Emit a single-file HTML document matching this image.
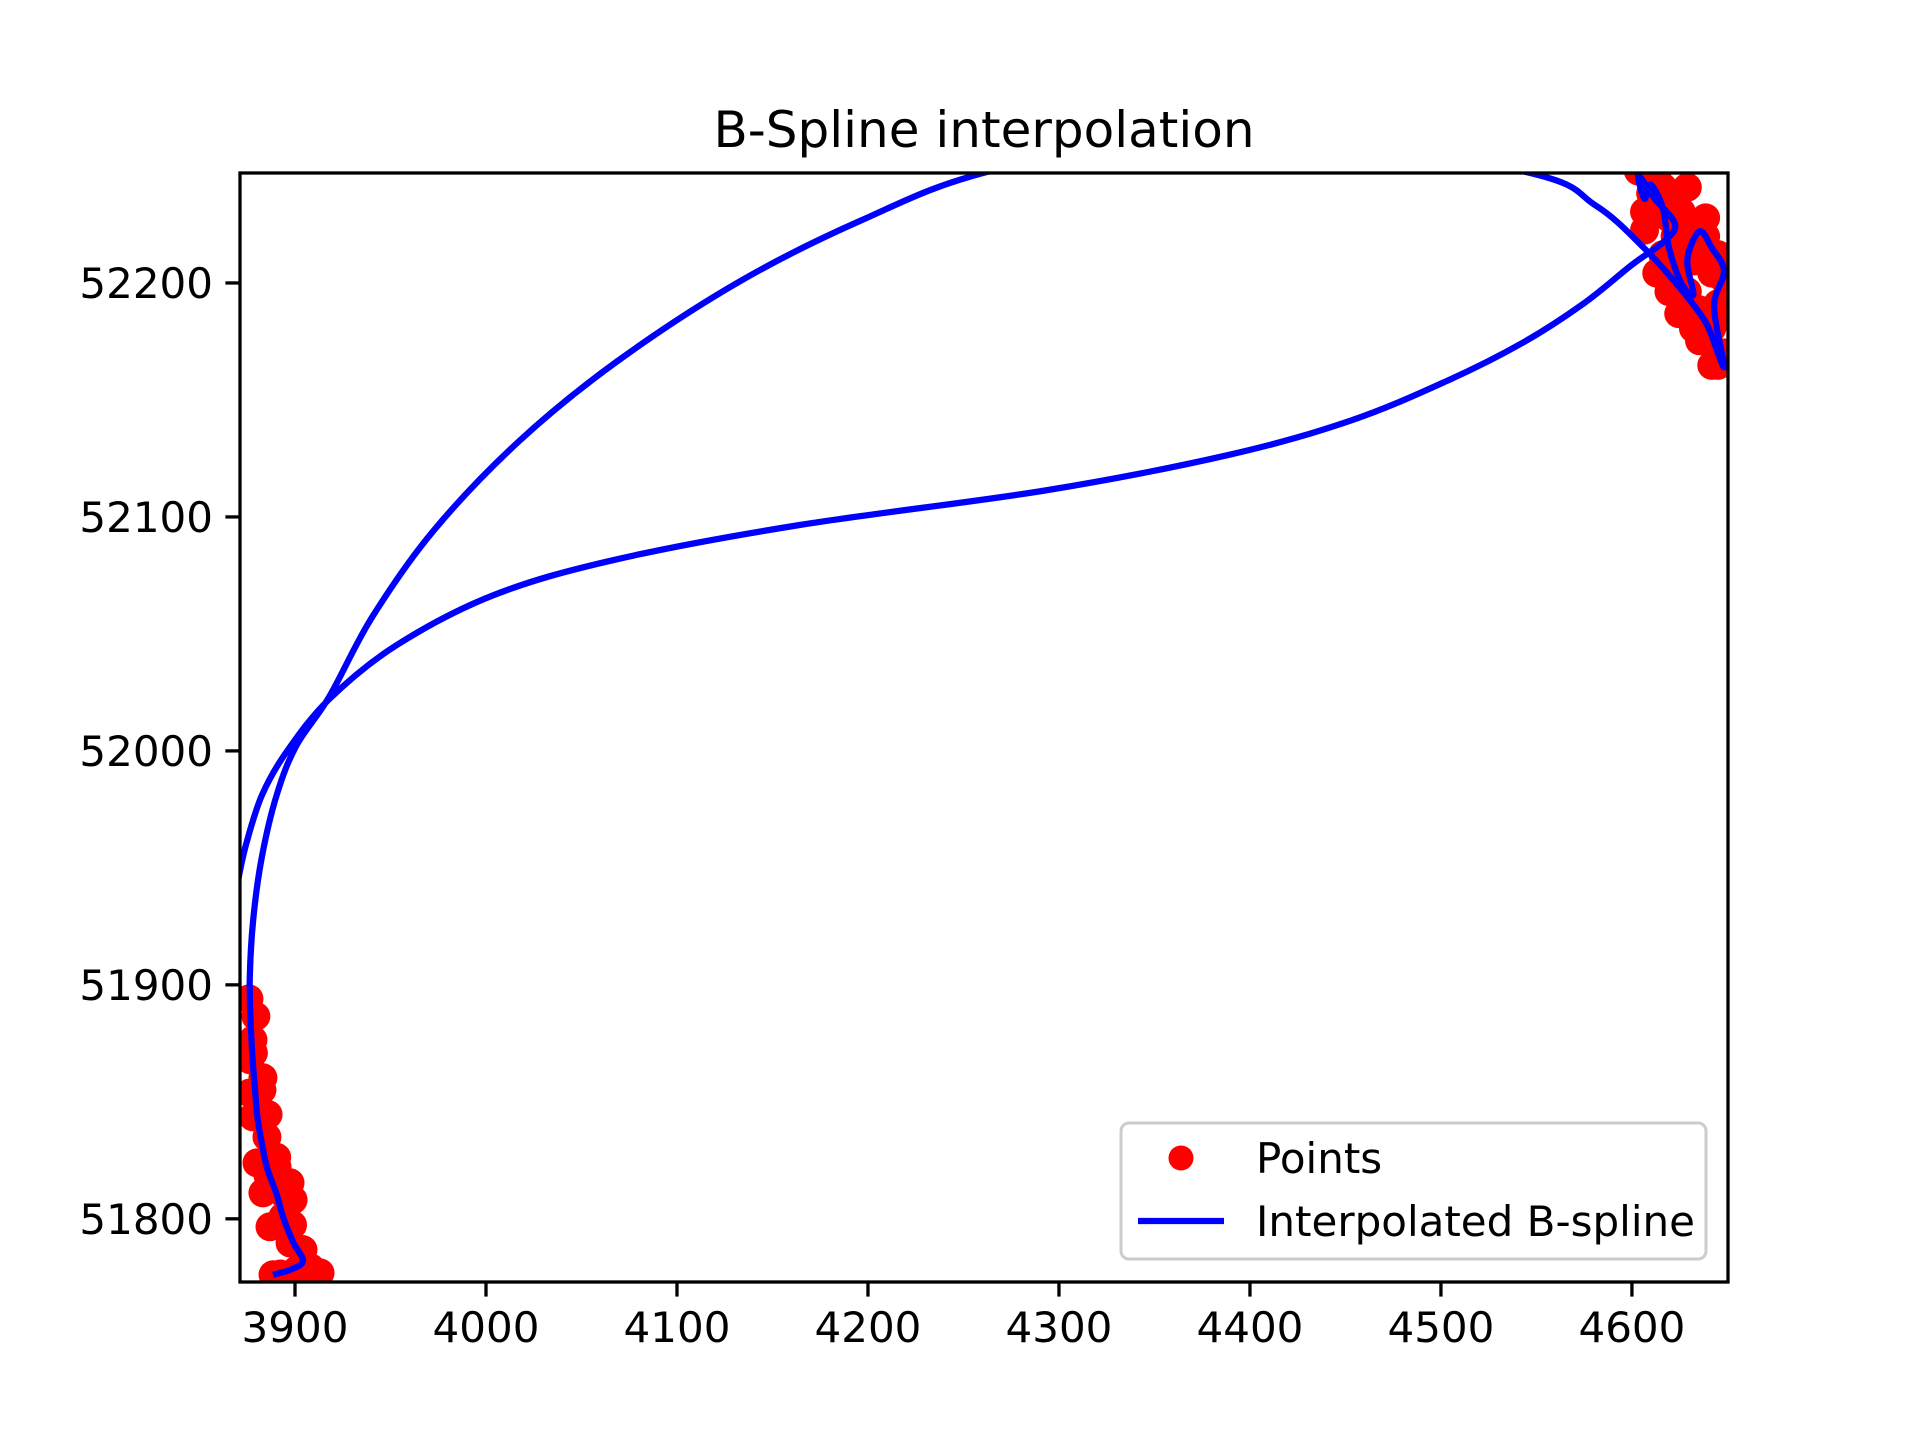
<!DOCTYPE html>
<html><head><meta charset="utf-8"><style>
html,body{margin:0;padding:0;background:#fff;}
svg{display:block;font-family:"DejaVu Sans","Liberation Sans",sans-serif;}
</style></head><body>
<svg id="chart" width="1920" height="1440" viewBox="0 0 1920 1440" xmlns="http://www.w3.org/2000/svg">
<rect width="1920" height="1440" fill="#fff"/>
<text x="984" y="147" font-size="50" text-anchor="middle" fill="#000">B-Spline interpolation</text>
<defs><clipPath id="plotclip"><rect x="240" y="173" width="1488" height="1109"/></clipPath></defs>
<g id="plot" clip-path="url(#plotclip)"></g>
<g id="axes"></g>
<g>
<rect x="1121" y="1123" width="585" height="136" rx="8" fill="#fff" fill-opacity="0.8" stroke="#ccc" stroke-width="3"/>
<circle cx="1181" cy="1158" r="12.5" fill="#ff0000"/>
<text x="1256" y="1173" font-size="42" fill="#000">Points</text>
<line x1="1138" y1="1221" x2="1224" y2="1221" stroke="#0000ff" stroke-width="6.25"/>
<text x="1256" y="1236" font-size="42" fill="#000">Interpolated B-spline</text>
</g>
</svg>
<script>
const xTicks = [3900, 4000, 4100, 4200, 4300, 4400, 4500, 4600];
const yTicks = [51800, 51900, 52000, 52100, 52200];
const xDomain = [3871.2, 4650.3];
const yDomain = [51773, 52247];
const pointsX = [3875.9,3878.0,3876.4,3883.2,3876.4,3878.0,3885.3,3880.1,3890.6,3897.4,3899.0,3883.2,3893.7,3886.9,3904.2,3897.4,3913.1,3888.5,3901.0,
 3879.5,3878.2,3882.7,3885.9,3890.4,3894.2,3898.7,3903.8,3908.3,3892.3,3885.9,
 4603.4,4609.8,4606.6,4616.2,4629.0,4635.4,4632.2,4638.6,4645.0,4648.2,4645.0,4641.8,4648.2,4638.6,4629.0,4622.6,4616.2,4622.6,4619.4,4625.8,4645.0,4635.4,4625.8,4632.2,
 4606.6,4613.0,4619.4,4624.5,4632.2,4641.8,4650.1,4613.0,4622.6,4638.6,4641.8,4635.4,4629.0];
const pointsY = [51894.0,51876.5,51868.0,51860.3,51853.8,51843.6,51835.0,51823.9,51822.2,51815.4,51808.1,51811.1,51800.9,51796.6,51786.8,51789.7,51776.9,51776.1,51778.2,
 51886.6,51870.9,51855.1,51844.6,51826.3,51810.5,51797.4,51786.9,51779.0,51776.4,51818.4,
 52247.8,52238.3,52230.4,52240.9,52240.9,52225.2,52217.3,52219.9,52212.1,52201.6,52191.1,52180.6,52170.1,52183.2,52196.3,52204.2,52212.1,52219.9,52227.8,52230.4,52164.8,52175.3,52191.1,52209.4,
 52222.6,52204.2,52196.3,52186.9,52180.6,52164.8,52185.8,52246.2,52235.7,52227.8,52204.2,52188.5,52209.4];
const splineX = [3888.5,3897.4,3904.2,3899.0,3893.7,3890.6,3885.3,3882.0,3880.1,3879.0,3878.0,3877.0,
 3876.3,3878.2,3882.7,3890.4,3900.6,3917.9,3940.4,3972.4,4017.2,4068.5,4132.5,4196.6,4263.9,4390,4542.5,4581.0,4606.6,
 4625.0,4638.6,4645.0,4648.2,4643.0,4648.2,4641.8,4635.4,4629.0,4632.2,4625.8,4619.4,4616.2,4609.8,4606.6,4603.4,4612,4622.6,
 4616.2,4600.2,4574.5,4542.5,4504.1,4452.8,4388.8,4292.7,4164.6,4068.5,4004.4,3953.2,3917.9,3895.5,3882.7,3874.4,3870];
const splineY = [51776.1,51778.2,51782.0,51790.0,51800.9,51810.0,51822.0,51835.0,51845.0,51856.0,51866.0,51880.0,
 51902.4,51928.6,51954.9,51981.1,52002.1,52023.1,52057.2,52094.0,52132.3,52166.4,52200.5,52226.8,52247.8,52268,52247.8,52233.1,52214.7,
 52198.0,52183.2,52170.1,52165.0,52190.0,52205.0,52215.0,52222.0,52210.0,52195.0,52200.0,52215.0,52232.0,52242.0,52236.0,52246.0,52236.0,52225.0,
 52217.3,52207.9,52191.1,52174.3,52158.5,52141.2,52126.5,52111.3,52096.6,52081.9,52066.7,52045.2,52022.1,51999.5,51981.1,51960.1,51944];

const L=240,R=1728,T=173,B=1282;
const sx = v => L + (v - xDomain[0]) / (xDomain[1] - xDomain[0]) * (R - L);
const sy = v => B - (v - yDomain[0]) / (yDomain[1] - yDomain[0]) * (B - T);
const NS = "http://www.w3.org/2000/svg";
const plot = document.getElementById('plot');
const axes = document.getElementById('axes');

for (let i = 0; i < pointsX.length; i++) {
  const c = document.createElementNS(NS, 'circle');
  c.setAttribute('cx', sx(pointsX[i])); c.setAttribute('cy', sy(pointsY[i]));
  c.setAttribute('r', 14.5); c.setAttribute('fill', '#ff0000');
  
  
  plot.appendChild(c);
}
const P = splineX.map((x, i) => [sx(x), sy(splineY[i])]);
let d = 'M' + P[0][0] + ',' + P[0][1];
for (let i = 0; i < P.length - 1; i++) {
  const p0 = P[Math.max(0, i - 1)], p1 = P[i], p2 = P[i + 1], p3 = P[Math.min(P.length - 1, i + 2)];
  const c1 = [p1[0] + (p2[0] - p0[0]) / 6, p1[1] + (p2[1] - p0[1]) / 6];
  const c2 = [p2[0] - (p3[0] - p1[0]) / 6, p2[1] - (p3[1] - p1[1]) / 6];
  d += ' C' + c1 + ' ' + c2 + ' ' + p2;
}
const path = document.createElementNS(NS, 'path');
path.setAttribute('d', d); path.setAttribute('fill', 'none');
path.setAttribute('stroke', '#0000ff'); path.setAttribute('stroke-width', 6.25);
path.setAttribute('stroke-linejoin', 'round');


plot.appendChild(path);

const frame = document.createElementNS(NS, 'rect');
frame.setAttribute('x', L); frame.setAttribute('y', T); frame.setAttribute('width', R - L); frame.setAttribute('height', B - T);
frame.setAttribute('fill', 'none'); frame.setAttribute('stroke', '#000'); frame.setAttribute('stroke-width', 3.3);


axes.appendChild(frame);

xTicks.forEach(v => {
  const x = sx(v);
  const t = document.createElementNS(NS, 'line');
  t.setAttribute('x1', x); t.setAttribute('x2', x); t.setAttribute('y1', B); t.setAttribute('y2', B + 14.6);
  t.setAttribute('stroke', '#000'); t.setAttribute('stroke-width', 3.3);
  
  
  axes.appendChild(t);
  const tx = document.createElementNS(NS, 'text');
  tx.setAttribute('x', x); tx.setAttribute('y', B + 60); tx.setAttribute('font-size', 42);
  tx.setAttribute('text-anchor', 'middle'); tx.textContent = v;
  
  
  axes.appendChild(tx);
});
yTicks.forEach(v => {
  const y = sy(v);
  const t = document.createElementNS(NS, 'line');
  t.setAttribute('x1', L - 14.6); t.setAttribute('x2', L); t.setAttribute('y1', y); t.setAttribute('y2', y);
  t.setAttribute('stroke', '#000'); t.setAttribute('stroke-width', 3.3);
  
  
  axes.appendChild(t);
  const tx = document.createElementNS(NS, 'text');
  tx.setAttribute('x', L - 27); tx.setAttribute('y', y + 15); tx.setAttribute('font-size', 42);
  tx.setAttribute('text-anchor', 'end'); tx.textContent = v;
  
  
  axes.appendChild(tx);
});
</script>
</body></html>
